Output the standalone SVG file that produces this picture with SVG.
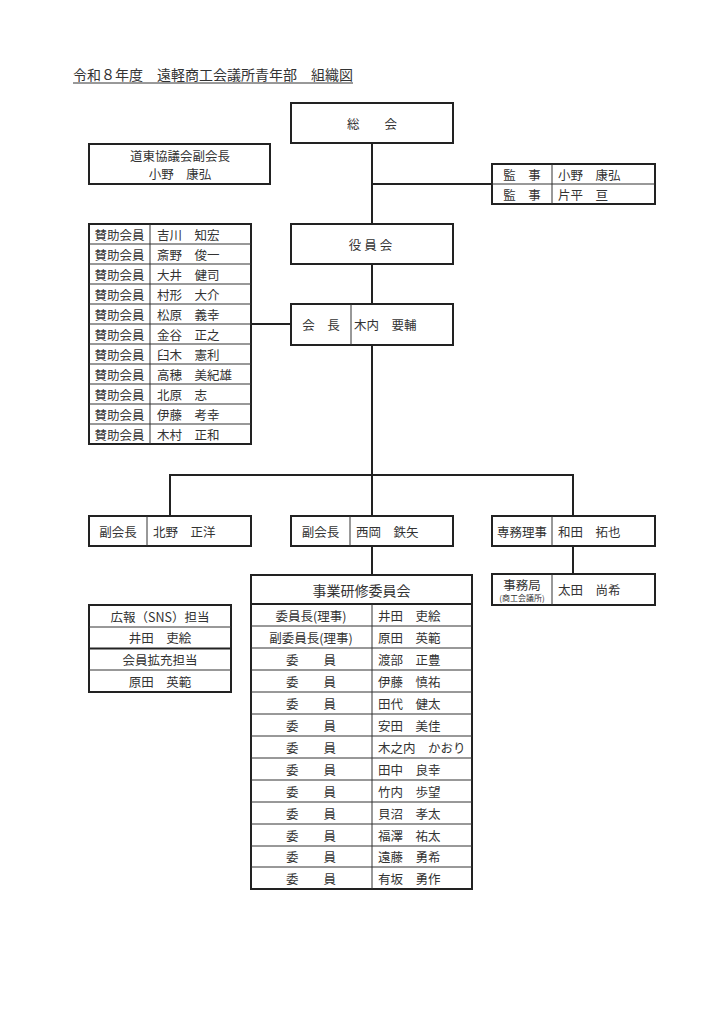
<svg xmlns="http://www.w3.org/2000/svg" width="724" height="1024" viewBox="0 0 724 1024">
<style>
text{font-family:"Noto Sans CJK JP","Noto Sans",sans-serif;font-size:12.5px;fill:#333;dominant-baseline:central}
.c{text-anchor:middle}
.box{fill:#fff;stroke:#222;stroke-width:2}
.div{stroke:#333;stroke-width:1;fill:none}
.con{stroke:#222;stroke-width:2;fill:none}
</style>
<rect width="724" height="1024" fill="#fff"/>
<g id="title">
<text x="73" y="74" style="font-size:14px">令和８年度　遠軽商工会議所青年部　組織図</text>
<line x1="73" y1="83" x2="353" y2="83" stroke="#333" stroke-width="1"/>
</g>
<g id="connectors">
<line class="con" x1="372" y1="143" x2="372" y2="475"/>
<line class="con" x1="372" y1="184" x2="492" y2="184"/>
<line class="con" x1="251" y1="324" x2="291" y2="324"/>
<polyline class="con" points="170,516 170,475 573,475 573,516"/>
<line class="con" x1="372" y1="475" x2="372" y2="516"/>
<line class="con" x1="372" y1="546" x2="372" y2="575"/>
<line class="con" x1="573" y1="546" x2="573" y2="574"/>
</g>
<g id="soukai">
<rect class="box" x="291" y="103" width="162" height="40"/>
<text class="c" x="372" y="123">総　　会</text>
</g>
<g id="doutou">
<rect class="box" x="89" y="144" width="181" height="40"/>
<text class="c" x="180" y="155">道東協議会副会長</text>
<text class="c" x="180" y="173">小野　康弘</text>
</g>
<g id="kanji">
<rect class="box" x="492" y="164" width="163" height="40"/>
<line class="div" x1="492" y1="184" x2="655" y2="184"/>
<line class="div" x1="552" y1="164" x2="552" y2="204"/>
<text class="c" x="522" y="174">監　事</text>
<text x="558" y="174">小野　康弘</text>
<text class="c" x="522" y="194">監　事</text>
<text x="558" y="194">片平　亘</text>
</g>
<g id="yakuinkai">
<rect class="box" x="291" y="224" width="162" height="40"/>
<text class="c" x="372" y="244" style="letter-spacing:3px">役員会</text>
</g>
<g id="kaicho">
<rect class="box" x="291" y="304" width="162" height="41"/>
<line class="div" x1="351" y1="304" x2="351" y2="345"/>
<text class="c" x="321" y="324.5">会　長</text>
<text x="354" y="324.5">木内　要輔</text>
</g>
<g id="sanjo">
<rect class="box" x="89" y="224" width="162" height="220"/>
<line class="div" x1="150" y1="224" x2="150" y2="444"/>
<path class="div" d="M89 244H251M89 264H251M89 284H251M89 304H251M89 324H251M89 344H251M89 364H251M89 384H251M89 404H251M89 424H251"/>
<text class="c" x="119.5" y="234">賛助会員</text><text x="157" y="234">吉川　知宏</text>
<text class="c" x="119.5" y="254">賛助会員</text><text x="157" y="254">斎野　俊一</text>
<text class="c" x="119.5" y="274">賛助会員</text><text x="157" y="274">大井　健司</text>
<text class="c" x="119.5" y="294">賛助会員</text><text x="157" y="294">村形　大介</text>
<text class="c" x="119.5" y="314">賛助会員</text><text x="157" y="314">松原　義幸</text>
<text class="c" x="119.5" y="334">賛助会員</text><text x="157" y="334">金谷　正之</text>
<text class="c" x="119.5" y="354">賛助会員</text><text x="157" y="354">臼木　憲利</text>
<text class="c" x="119.5" y="374">賛助会員</text><text x="157" y="374">高穂　美紀雄</text>
<text class="c" x="119.5" y="394">賛助会員</text><text x="157" y="394">北原　志</text>
<text class="c" x="119.5" y="414">賛助会員</text><text x="157" y="414">伊藤　考幸</text>
<text class="c" x="119.5" y="434">賛助会員</text><text x="157" y="434">木村　正和</text>
</g>
<g id="fuku1">
<rect class="box" x="89" y="516" width="162" height="30"/>
<line class="div" x1="147" y1="516" x2="147" y2="546"/>
<text class="c" x="118" y="531">副会長</text>
<text x="153" y="531">北野　正洋</text>
</g>
<g id="fuku2">
<rect class="box" x="291" y="516" width="162" height="30"/>
<line class="div" x1="350" y1="516" x2="350" y2="546"/>
<text class="c" x="320.5" y="531">副会長</text>
<text x="356" y="531">西岡　鉄矢</text>
</g>
<g id="senmu">
<rect class="box" x="492" y="516" width="163" height="30"/>
<line class="div" x1="552" y1="516" x2="552" y2="546"/>
<text class="c" x="522" y="531">専務理事</text>
<text x="558" y="531">和田　拓也</text>
</g>
<g id="jimukyoku">
<rect class="box" x="492" y="574" width="163" height="31"/>
<line class="div" x1="552" y1="574" x2="552" y2="605"/>
<text class="c" x="522" y="584.5" style="font-size:12.5px">事務局</text>
<text class="c" x="522" y="597.5" style="font-size:8px">(商工会議所)</text>
<text x="558" y="589.5">太田　尚希</text>
</g>
<g id="sns">
<rect class="box" x="89" y="605" width="142" height="87"/>
<line class="div" x1="89" y1="627" x2="231" y2="627"/>
<line x1="89" y1="648.5" x2="231" y2="648.5" stroke="#222" stroke-width="2"/>
<line class="div" x1="89" y1="670" x2="231" y2="670"/>
<text class="c" x="160" y="616">広報（SNS）担当</text>
<text class="c" x="160" y="637.5">井田　吏絵</text>
<text class="c" x="160" y="659">会員拡充担当</text>
<text class="c" x="160" y="681">原田　英範</text>
</g>
<g id="committee">
<rect class="box" x="251" y="575" width="221" height="314"/>
<line x1="251" y1="604" x2="472" y2="604" stroke="#222" stroke-width="2"/>
<line class="div" x1="372" y1="604" x2="372" y2="889"/>
<path class="div" d="M251 626H472M251 648H472M251 670H472M251 692H472M251 714H472M251 736H472M251 758H472M251 780H472M251 802H472M251 824H472M251 846H472M251 867H472"/>
<text class="c" x="361.5" y="590" style="font-size:14px">事業研修委員会</text>
<text class="c" x="311" y="615">委員長(理事)</text><text x="378" y="615">井田　吏絵</text>
<text class="c" x="311" y="637">副委員長(理事)</text><text x="378" y="637">原田　英範</text>
<text class="c" x="311" y="659">委　　員</text><text x="378" y="659">渡部　正豊</text>
<text class="c" x="311" y="681">委　　員</text><text x="378" y="681">伊藤　慎祐</text>
<text class="c" x="311" y="703">委　　員</text><text x="378" y="703">田代　健太</text>
<text class="c" x="311" y="725">委　　員</text><text x="378" y="725">安田　美佳</text>
<text class="c" x="311" y="747">委　　員</text><text x="378" y="747">木之内　かおり</text>
<text class="c" x="311" y="769">委　　員</text><text x="378" y="769">田中　良幸</text>
<text class="c" x="311" y="791">委　　員</text><text x="378" y="791">竹内　歩望</text>
<text class="c" x="311" y="813">委　　員</text><text x="378" y="813">貝沼　孝太</text>
<text class="c" x="311" y="835">委　　員</text><text x="378" y="835">福澤　祐太</text>
<text class="c" x="311" y="856.5">委　　員</text><text x="378" y="856.5">遠藤　勇希</text>
<text class="c" x="311" y="878">委　　員</text><text x="378" y="878">有坂　勇作</text>
</g>
</svg>
